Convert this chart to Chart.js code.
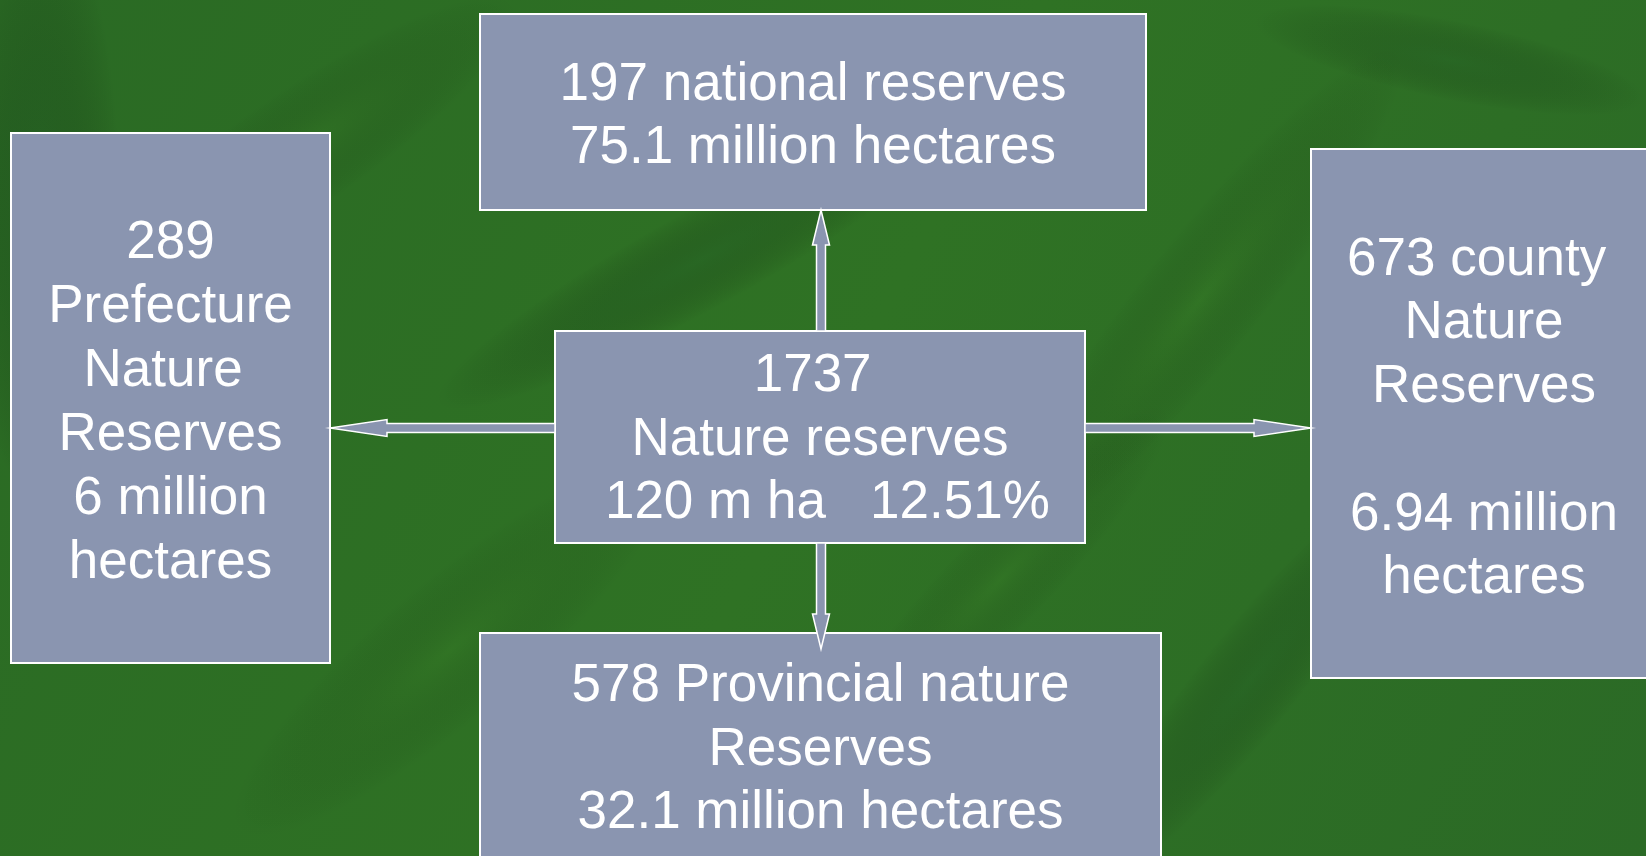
<!DOCTYPE html>
<html>
<head>
<meta charset="utf-8">
<script src="https://cdn.jsdelivr.net/npm/chart.js@4/dist/chart.umd.min.js"></script>
<style>
  html, body { margin: 0; padding: 0; background: #2d6b26; overflow: hidden; }
  #wrap { width: 1646px; height: 856px; }
</style>
</head>
<body>
<div id="wrap"><canvas id="diagram" width="1646" height="856"></canvas></div>
<script>
// reserve counts and areas, as written on the slide
const groups   = ['total', 'national', 'prefecture', 'provincial', 'county'];
const counts   = [1737, 197, 289, 578, 673];
const labels   = [
  ['1737 ', 'Nature reserves', ' 120 m ha   12.51%'],
  ['197 national reserves', '75.1 million hectares'],
  ['289', 'Prefecture', 'Nature ', 'Reserves', '6 million', 'hectares'],
  ['578 Provincial nature', 'Reserves', '32.1 million hectares'],
  ['673 county ', 'Nature', 'Reserves', '', '6.94 million', 'hectares'],
];

// layout in page units (x 0..1646, y 0..856)
const boxX0 = [555, 480, 11, 480, 1311];
const boxX1 = [1085, 1146, 330, 1161, 1660];
const boxY0 = [331, 14, 133, 633, 149];
const boxY1 = [543, 210, 663, 900, 678];
const textY = [
  [376, 440, 503],
  [85, 148],
  [243, 307, 371, 435, 499, 563],
  [686, 750, 813],
  [260, 323, 387, 451, 515, 578],
];
// arrows: [x0, y0, x1, y1, headLength]
const arrows = [
  [821, 331, 821, 210, 35],
  [555, 428, 330, 428, 57],
  [1085, 428, 1311, 428, 57],
  [821, 543, 821, 649, 35],
];

const BOX_FILL = '#8a95b0';
const LINE = '#ffffff';
const FONT = '53px "Liberation Sans", Arial, sans-serif';

function drawBackground(chart) {
  const { ctx, width, height } = chart;
  ctx.save();
  const g = ctx.createLinearGradient(0, 0, width, height);
  g.addColorStop(0, '#2a6a24');
  g.addColorStop(0.5, '#2f7224');
  g.addColorStop(1, '#2b6a26');
  ctx.fillStyle = g;
  ctx.fillRect(0, 0, width, height);
  // soft streaks for the leafy texture
  const streaks = [
    [300, 150, 260, 60, -0.6, 'rgba(60,130,38,0.25)'],
    [700, 260, 300, 50, -0.5, 'rgba(30,85,35,0.35)'],
    [1200, 300, 320, 60, -0.9, 'rgba(60,130,38,0.25)'],
    [450, 650, 280, 70, -0.7, 'rgba(60,130,38,0.22)'],
    [1250, 680, 260, 50, -0.9, 'rgba(30,85,35,0.3)'],
    [1450, 60, 200, 40, 0.2, 'rgba(30,85,35,0.3)'],
    [40, 200, 80, 300, 0, 'rgba(30,85,35,0.35)'],
    [1000, 580, 240, 50, -0.8, 'rgba(60,130,38,0.22)'],
  ];
  streaks.forEach(([x, y, rx, ry, rot, col]) => {
    ctx.save();
    ctx.translate(x, y);
    ctx.rotate(rot);
    ctx.scale(1, ry / rx);
    const rg = ctx.createRadialGradient(0, 0, 0, 0, 0, rx);
    rg.addColorStop(0, col);
    rg.addColorStop(1, 'rgba(0,0,0,0)');
    ctx.fillStyle = rg;
    ctx.beginPath();
    ctx.arc(0, 0, rx, 0, Math.PI * 2);
    ctx.fill();
    ctx.restore();
  });
  ctx.restore();
}

function drawArrow(ctx, x0, y0, x1, y1, head) {
  const len = Math.hypot(x1 - x0, y1 - y0);
  const ang = Math.atan2(y1 - y0, x1 - x0);
  const sw = 4.5, hw = 8.5;
  ctx.save();
  ctx.translate(x0, y0);
  ctx.rotate(ang);
  ctx.beginPath();
  ctx.moveTo(0, -sw);
  ctx.lineTo(len - head, -sw);
  ctx.lineTo(len - head, -hw);
  ctx.lineTo(len, 0);
  ctx.lineTo(len - head, hw);
  ctx.lineTo(len - head, sw);
  ctx.lineTo(0, sw);
  ctx.closePath();
  ctx.fillStyle = BOX_FILL;
  ctx.fill();
  ctx.strokeStyle = LINE;
  ctx.lineWidth = 1.5;
  ctx.stroke();
  ctx.restore();
}

const diagramPlugin = {
  id: 'diagram',
  beforeDraw(chart) { drawBackground(chart); },
  afterDatasetsDraw(chart) {
    const { ctx, scales: { x, y } } = chart;
    const px = v => x.getPixelForValue(v);
    const py = v => y.getPixelForValue(v);

    groups.forEach((g, i) => {
      const l = px(boxX0[i]), r = px(boxX1[i]);
      const t = py(boxY0[i]), b = py(boxY1[i]);
      ctx.save();
      ctx.fillStyle = BOX_FILL;
      ctx.fillRect(l, t, r - l, b - t);
      ctx.strokeStyle = LINE;
      ctx.lineWidth = 2;
      ctx.strokeRect(l, t, r - l, b - t);
      ctx.restore();
    });

    arrows.forEach(([ax0, ay0, ax1, ay1, h]) => {
      drawArrow(ctx, px(ax0), py(ay0), px(ax1), py(ay1), h);
    });

    ctx.save();
    ctx.fillStyle = '#ffffff';
    ctx.font = FONT;
    ctx.textAlign = 'center';
    ctx.textBaseline = 'middle';
    groups.forEach((g, i) => {
      const cx = px((boxX0[i] + Math.min(boxX1[i], 1657)) / 2);
      labels[i].forEach((line, j) => {
        if (line) ctx.fillText(line, cx, py(textY[i][j]));
      });
    });
    ctx.restore();
  },
};

new Chart(document.getElementById('diagram'), {
  type: 'scatter',
  data: {
    datasets: [{
      label: 'Nature reserves',
      data: groups.map((g, i) => ({ x: (boxX0[i] + boxX1[i]) / 2, y: (boxY0[i] + boxY1[i]) / 2, n: counts[i] })),
      pointRadius: 0,
    }],
  },
  options: {
    responsive: false,
    animation: false,
    layout: { padding: 0 },
    plugins: { legend: { display: false }, tooltip: { enabled: false } },
    scales: {
      x: { type: 'linear', min: 0, max: 1646, display: false },
      y: { type: 'linear', min: 0, max: 856, reverse: true, display: false },
    },
  },
  plugins: [diagramPlugin],
});
</script>
</body>
</html>
